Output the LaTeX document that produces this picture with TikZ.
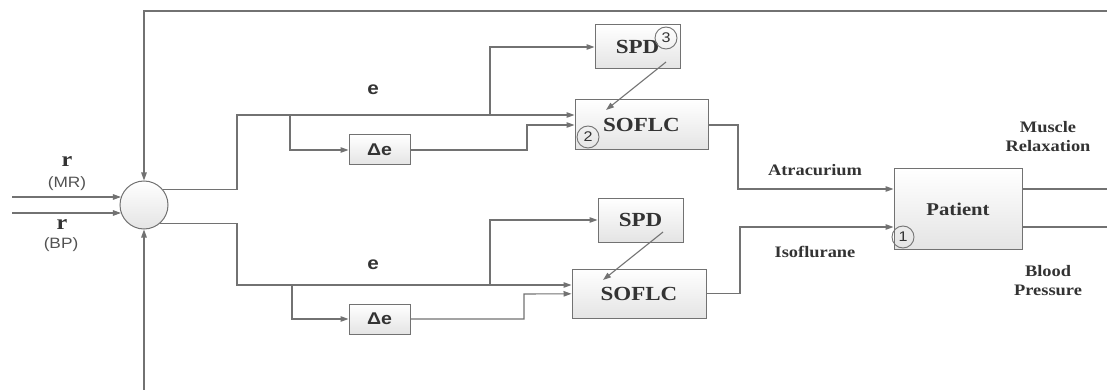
\documentclass[tikz,border=0pt]{standalone}
\usepackage{fontspec}
\setmainfont{Liberation Serif}[FakeStretch=1.15]
\setsansfont{Liberation Sans}[FakeStretch=1.15]
\usepackage{tikz}
\usetikzlibrary{arrows.meta}
\usepackage{xcolor}
\definecolor{linegray}{HTML}{727272}
\definecolor{boxgray}{HTML}{E4E4E4}
\definecolor{txtgray}{HTML}{333333}
\tikzset{
  wire/.style={draw=linegray, line width=1.1pt},
  arr/.style={wire, -{Triangle[length=8pt,width=5.5pt]}},
  blk/.style={draw=linegray, line width=1pt, top color=white, bottom color=boxgray,
    text=txtgray, inner sep=0pt, font=\bfseries\fontsize{20}{22}\selectfont},
  dblk/.style={blk, minimum width=61pt, minimum height=30pt,
    font=\sffamily\bfseries\fontsize{17}{19}\selectfont},
  sumnode/.style={circle, draw=linegray, line width=1pt, top color=white,
    bottom color=boxgray, minimum size=48pt, inner sep=0pt},
  numc/.style={circle, draw=linegray, line width=0.9pt, minimum size=22pt,
    inner sep=0pt, text=txtgray, font=\sffamily\fontsize{14}{14}\selectfont},
  lbl/.style={text=txtgray, font=\bfseries\fontsize{16}{19}\selectfont, align=center},
  slbl/.style={text=txtgray, font=\sffamily\bfseries\fontsize{18}{20}\selectfont},
}

\begin{document}
\begin{tikzpicture}[x=1pt, y=-1pt]
    \useasboundingbox (0,0) rectangle (1107,390);

    % blocks
    \node[sumnode] (sum) at (144,205) {};
    \node[blk, minimum width=85pt, minimum height=44pt] (spdA) at (637.5,47) {SPD};
    \node[blk, minimum width=133pt, minimum height=50pt] (soflcA) at (641.5,125) {SOFLC};
    \node[dblk] (deA) at (379.5,150) {Δe};
    \node[blk, minimum width=85pt, minimum height=44pt] (spdB) at (640.5,220) {SPD};
    \node[blk, minimum width=134pt, minimum height=49pt] (soflcB) at (639,293.5) {SOFLC};
    \node[dblk] (deB) at (379.5,319) {Δe};
    \node[blk, minimum width=128pt, minimum height=80pt,
          font=\bfseries\fontsize{18}{20}\selectfont] (patient) at (958,209) {Patient};

    \node[numc] (n3) at (666,38) {3};
    \node[numc] (n2) at (588,137) {2};
    \node[numc] (n1) at (903,237) {1};

    % labels
    \node[text=txtgray, font=\bfseries\fontsize{21}{22}\selectfont] (rMR) at (67,162) {r};
    \node[text=txtgray!85, font=\sffamily\fontsize{15}{16}\selectfont] (tMR) at (67,184) {(MR)};
    \node[text=txtgray, font=\bfseries\fontsize{21}{22}\selectfont] (rBP) at (62,225) {r};
    \node[text=txtgray!85, font=\sffamily\fontsize{15}{16}\selectfont] (tBP) at (61,245) {(BP)};
    \node[slbl] (eAl) at (373,90) {e};
    \node[slbl] (eBl) at (373,265) {e};
    \node[lbl] (atra) at (815,170) {Atracurium};
    \node[lbl] (iso) at (815,252) {Isoflurane};
    \node[lbl] (mrel) at (1048,137) {Muscle\\Relaxation};
    \node[lbl] (bpres) at (1048,281) {Blood\\Pressure};

    % junction points
    \coordinate (inMR) at (12,197);
    \coordinate (inBP) at (12,213);
    \coordinate (fbR) at (1107,11);
    \coordinate (fbB) at (144,390);
    \coordinate (eA) at (237,115);
    \coordinate (bA) at (290,115);
    \coordinate (sA) at (490,115);
    \coordinate (kA) at (527,125);
    \coordinate (mA) at (738,189);
    \coordinate (eB) at (237,285);
    \coordinate (bB) at (292,285);
    \coordinate (sB) at (490,285);
    \coordinate (kB) at (524,294);
    \coordinate (mB) at (740,227);
    \coordinate (oA) at (1107,189);
    \coordinate (oB) at (1107,227);

    % feedback and inputs
    \draw[arr] (fbR) -| (sum.north);
    \draw[arr] (fbB) -- (sum.south);
    \draw[arr] (inMR) -- (inMR -| sum.160);
    \draw[arr] (inBP) -- (inBP -| sum.200);

    % upper loop
    \draw[arr] (sum.40) -| (eA) -- (eA -| soflcA.west);
    \draw[arr] (bA) |- (deA);
    \draw[arr] (sA) |- (spdA);
    \draw[arr] (deA) -| (kA) -- (soflcA);
    \draw[arr] ([xshift=28.5pt,yshift=-15pt]spdA.center) -- ([xshift=-35.5pt,yshift=15pt]soflcA.center);
    \draw[arr] (soflcA) -| (mA) -- (mA -| patient.west);

    % lower loop
    \draw[arr] (sum.-50) -| (eB) -- (eB -| soflcB.west);
    \draw[arr] (bB) |- (deB);
    \draw[arr] (sB) |- (spdB);
    \draw[arr] (deB) -| (kB) -- (soflcB);
    \draw[arr] ([xshift=22.5pt,yshift=-12pt]spdB.center) -- ([xshift=-36pt,yshift=13.5pt]soflcB.center);
    \draw[arr] (soflcB) -| (mB) -- (mB -| patient.west);

    % outputs
    \draw[wire] (oA -| patient.east) -- (oA);
    \draw[wire] (oB -| patient.east) -- (oB);
\end{tikzpicture}
\end{document}
